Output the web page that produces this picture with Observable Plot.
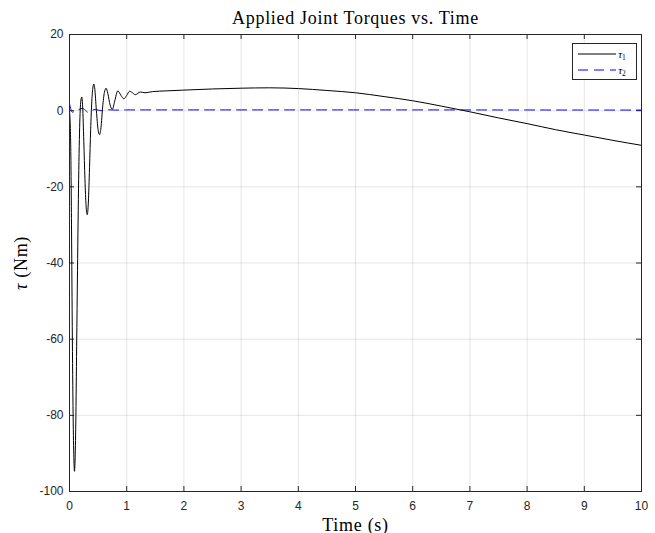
<!DOCTYPE html>
<html>
<head>
<meta charset="utf-8">
<script src="https://cdn.jsdelivr.net/npm/d3@7"></script>
<script src="https://cdn.jsdelivr.net/npm/@observablehq/plot@0.6"></script>
<style>
  html, body { margin: 0; padding: 0; background: #fff; }
  #chart svg { display: block; }
</style>
</head>
<body>
<div id="chart"></div>
<script>
// ---- data ----
const tau1Time = [0, 0.02, 0.035, 0.05, 0.065, 0.078, 0.087, 0.097, 0.11, 0.125, 0.14, 0.16, 0.18, 0.2, 0.215, 0.23, 0.25, 0.27, 0.29, 0.31, 0.33, 0.35, 0.37, 0.39, 0.41, 0.425, 0.44, 0.47, 0.5, 0.525, 0.55, 0.58, 0.61, 0.64, 0.67, 0.71, 0.75, 0.79, 0.845, 0.9, 0.95, 1.0, 1.05, 1.1, 1.15, 1.24, 1.32, 1.45, 1.7, 2, 2.5, 3, 3.5, 4, 4.5, 5, 5.5, 6, 6.5, 7, 7.5, 8, 8.5, 9, 9.5, 10];
const tau1Value = [0, -8, -30, -60, -82, -92, -94.7, -92, -82, -62, -42, -18, -3, 2.8, 3.6, 1, -8, -18, -25, -27.3, -24, -15, -5, 2.5, 6.2, 7, 6, 0, -5, -6.3, -4.5, 1, 4.8, 5.9, 4.5, 1.5, 0.4, 2.5, 5.2, 4, 3.1, 4, 5.1, 4.7, 4.2, 4.9, 4.7, 5.0, 5.2, 5.4, 5.7, 5.9, 6.0, 5.8, 5.3, 4.7, 3.7, 2.6, 1.2, -0.3, -1.9, -3.4, -5.0, -6.4, -7.8, -9.1];

const tau2Time = [0, 0.02, 0.05, 0.1, 0.15, 0.22, 0.28, 0.31, 0.36, 0.45, 0.55, 0.65, 0.8, 1, 2, 4, 6, 8, 10];
const tau2Value = [1.8, 0.6, -0.4, -0.1, 0.2, 0.6, 0.1, -0.4, -0.1, 0.3, 0.0, 0.25, 0.15, 0.2, 0.2, 0.2, 0.2, 0.18, 0.15];

const xTicks = [0, 1, 2, 3, 4, 5, 6, 7, 8, 9, 10];
const yTicks = [-100, -80, -60, -40, -20, 0, 20];
const titleText = "Applied Joint Torques vs. Time";
const xLabelText = "Time (s)";
const yLabelText = "τ (Nm)";
const seriesNames = ["τ1", "τ2"];

const tau1 = tau1Time.map((t, i) => ({t, v: tau1Value[i]}));
const tau2 = tau2Time.map((t, i) => ({t, v: tau2Value[i]}));

const W = 655, H = 533;
const mT = 34, mB = 42, mL = 69, mR = 14;
const frameH = H - mT - mB, frameW = W - mL - mR;
const axisColor = "#262626";
const serif = "'Liberation Serif', 'DejaVu Serif', serif";
const sans = "'Liberation Sans', Arial, sans-serif";
const fmt = d => String(d);

const plot = Plot.plot({
  width: W,
  height: H,
  marginTop: mT,
  marginBottom: mB,
  marginLeft: mL,
  marginRight: mR,
  style: {fontFamily: sans, fontSize: "12px", color: axisColor, background: "#fff"},
  x: {domain: [0, 10], axis: null},
  y: {domain: [-100, 20], axis: null},
  marks: [
    Plot.gridX(xTicks, {stroke: "#000", strokeOpacity: 0.1}),
    Plot.gridY(yTicks, {stroke: "#000", strokeOpacity: 0.1}),
    // inward ticks on all four sides
    Plot.tickX(xTicks, {x: d => d, stroke: axisColor, insetTop: frameH - 5}),
    Plot.tickX(xTicks, {x: d => d, stroke: axisColor, insetBottom: frameH - 5}),
    Plot.tickY(yTicks, {y: d => d, stroke: axisColor, insetRight: frameW - 5}),
    Plot.tickY(yTicks, {y: d => d, stroke: axisColor, insetLeft: frameW - 5}),
    Plot.axisX(xTicks, {anchor: "bottom", tickSize: 0, tickPadding: 10, tickFormat: fmt, label: null, fontSize: 12, fill: axisColor}),
    Plot.axisY(yTicks, {anchor: "left", tickSize: 0, tickPadding: 6, tickFormat: fmt, label: null, fontSize: 12, fill: axisColor}),
    Plot.line(tau2, {x: "t", y: "v", stroke: "#0000ff", strokeWidth: 1, strokeDasharray: "10,6", curve: "monotone-x"}),
    Plot.line(tau1, {x: "t", y: "v", stroke: "#000", strokeWidth: 1, curve: "monotone-x"}),
    Plot.frame({stroke: axisColor, strokeWidth: 1}),
    Plot.text([titleText], {frameAnchor: "top", dy: -11, textAnchor: "middle", fontFamily: serif, fontSize: 18, fill: "#000", lineAnchor: "bottom"}),
    Plot.text([xLabelText], {frameAnchor: "bottom", dy: 39, textAnchor: "middle", fontFamily: serif, fontSize: 18, fill: "#000", lineAnchor: "bottom"}),
    Plot.text([yLabelText], {frameAnchor: "left", dx: -48, rotate: -90, textAnchor: "middle", fontFamily: serif, fontSize: 18, fill: "#000"})
  ]
});

document.getElementById("chart").appendChild(plot);

const svg = d3.select(plot);
// wider spacing to mimic the LaTeX (Computer Modern) lettering
svg.selectAll("text").filter(function() {
  return [titleText, xLabelText, yLabelText].includes(this.textContent);
}).style("letter-spacing", "0.7px");

// italic tau in the y label
svg.selectAll("text").filter(function() { return this.textContent === yLabelText; }).each(function() {
  const t = d3.select(this);
  t.text(null);
  t.append("tspan").attr("font-style", "italic").text("τ");
  t.append("tspan").text(" (Nm)");
});

// legend box (MATLAB style, upper right)
const lg = svg.append("g").attr("class", "legend");
const lx = 572, ly = 43, lw = 64, lh = 36;
lg.append("rect").attr("x", lx + 0.5).attr("y", ly + 0.5).attr("width", lw).attr("height", lh)
  .attr("fill", "#fff").attr("stroke", axisColor).attr("stroke-width", 1);
const entries = [
  {name: seriesNames[0], stroke: "#000", dash: null},
  {name: seriesNames[1], stroke: "#0000ff", dash: "10,6"}
];
entries.forEach((e, i) => {
  const yy = ly + 11 + i * 16;
  lg.append("line").attr("x1", lx + 6).attr("x2", lx + 44).attr("y1", yy).attr("y2", yy)
    .attr("stroke", e.stroke).attr("stroke-width", 1).attr("stroke-dasharray", e.dash);
  const tx = lg.append("text").attr("x", lx + 50).attr("y", yy + 3.5)
    .attr("font-family", serif).attr("font-size", 11).attr("fill", "#000");
  tx.append("tspan").attr("font-style", "italic").text(e.name[0]);
  tx.append("tspan").attr("font-size", 7.5).attr("dy", 2).text(e.name.slice(1));
});
</script>
</body>
</html>
